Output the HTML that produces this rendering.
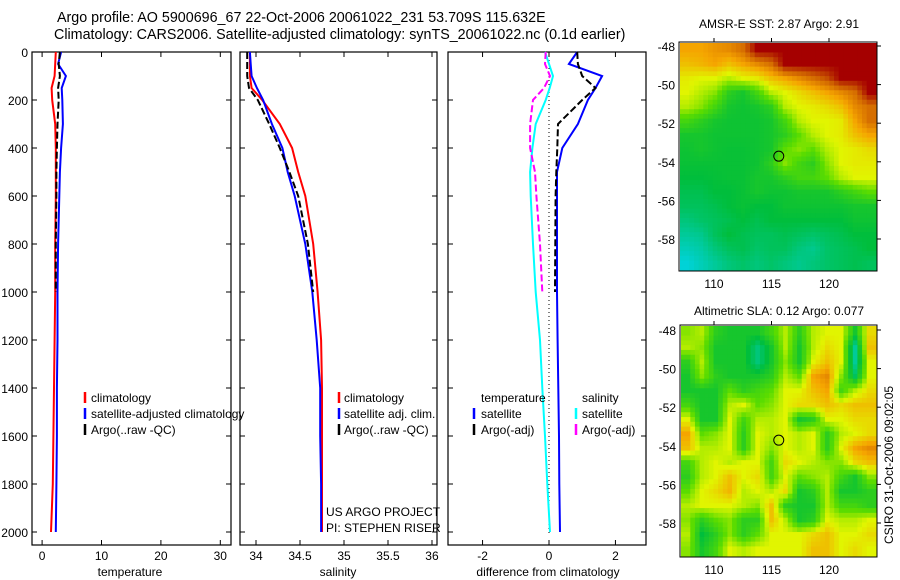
<!DOCTYPE html>
<html><head><meta charset="utf-8">
<style>
html,body{margin:0;padding:0;background:#fff;}
svg{display:block;font-family:"Liberation Sans",sans-serif;}
text{fill:#000;}
</style></head>
<body>
<svg id="fig" width="900" height="580" viewBox="0 0 900 580" xmlns="http://www.w3.org/2000/svg">
<rect width="900" height="580" fill="#fff"/>
<text x="57" y="22" font-size="14.3">Argo profile: AO 5900696_67 22-Oct-2006 20061022_231 53.709S 115.632E</text>
<text x="54" y="39" font-size="14.3">Climatology: CARS2006. Satellite-adjusted climatology: synTS_20061022.nc (0.1d earlier)</text>
<text x="779" y="28" font-size="12" text-anchor="middle">AMSR-E SST: 2.87 Argo: 2.91</text>
<text x="779" y="315" font-size="12" text-anchor="middle">Altimetric SLA: 0.12 Argo: 0.077</text>
<text transform="translate(893,465) rotate(-90)" font-size="12" text-anchor="middle">CSIRO 31-Oct-2006 09:02:05</text>
<g id="plots"></g>
</svg>
<script>
// ---------- data ----------
const depthTicks = [0,200,400,600,800,1000,1200,1400,1600,1800,2000];
const depths = [0,50,100,150,200,300,400,500,600,800,1000,1200,1400,1600,1800,2000];
const argoDepths = [0,50,100,150,200,300,400,500,600,800,1000];
const tempClim = [2.3,2.2,2.1,1.6,1.7,2.2,2.3,2.3,2.3,2.2,2.2,2.1,2.0,1.9,1.8,1.5];
const tempSat = [3.2,2.7,4.0,3.3,3.4,3.5,3.2,3.0,2.9,2.7,2.6,2.6,2.5,2.5,2.4,2.3];
const tempArgo = [3.0,2.8,3.0,2.7,2.8,2.6,2.5,2.4,2.4,2.3,2.3];
const salClim = [33.93,33.93,33.93,33.95,34.07,34.27,34.41,34.48,34.56,34.65,34.70,34.74,34.75,34.75,34.75,34.75];
const salSat = [33.93,33.94,33.95,34.01,34.08,34.18,34.30,34.36,34.44,34.56,34.64,34.69,34.73,34.73,34.74,34.74];
const salArgo = [33.90,33.90,33.90,33.92,34.02,34.15,34.27,34.38,34.48,34.59,34.65];
const dTempSat = [0.85,0.6,1.6,1.4,1.17,0.87,0.4,0.24,0.24,0.24,0.24,0.26,0.28,0.3,0.31,0.33];
const dTempArgo = [0.85,0.87,1.0,1.4,1.0,0.27,0.25,0.22,0.2,0.19,0.18];
const dSalSat = [-0.12,0.0,0.12,0.02,-0.1,-0.4,-0.5,-0.57,-0.55,-0.48,-0.4,-0.27,-0.2,-0.12,-0.05,0.03];
const dSalArgo = [-0.1,-0.12,0.03,-0.15,-0.48,-0.57,-0.57,-0.42,-0.38,-0.27,-0.2];
const tempTicks = [0,10,20,30];
const salTicks = [34,34.5,35,35.5,36];
const salTickLabels = ["34","34.5","35","35.5","36"];
const diffTicks = [-2,0,2];
const latTicks = [-48,-50,-52,-54,-56,-58];
const lonTicks = [110,115,120];
const argoLon = 115.632, argoLat = -53.709;
const sstGrid = [
[.75,.75,.78,.8,.85,1,1,1,1,1,1,1,1,1],
[.7,.72,.75,.7,.75,.8,.85,1,1,1,1,1,1,1],
[.62,.6,.6,.55,.6,.62,.7,.75,.8,.85,.9,1,1,1],
[.6,.55,.5,.35,.3,.4,.55,.6,.65,.7,.75,.8,.85,1],
[.55,.5,.4,.3,.28,.3,.35,.55,.6,.62,.65,.7,.8,.85],
[.4,.35,.3,.28,.28,.28,.3,.4,.55,.6,.6,.62,.75,.85],
[.3,.3,.28,.28,.28,.28,.3,.35,.45,.55,.6,.62,.7,.75],
[.28,.3,.28,.27,.27,.28,.3,.45,.5,.45,.55,.6,.62,.65],
[.27,.27,.27,.27,.27,.28,.35,.5,.4,.35,.5,.6,.62,.62],
[.25,.25,.26,.27,.27,.3,.3,.35,.4,.4,.45,.55,.6,.6],
[.22,.22,.25,.25,.27,.3,.28,.28,.3,.3,.3,.35,.4,.45],
[.2,.2,.22,.25,.27,.25,.25,.28,.28,.28,.28,.28,.3,.3],
[.15,.18,.2,.22,.25,.22,.25,.25,.25,.25,.25,.25,.28,.28],
[.1,.12,.2,.25,.22,.2,.2,.22,.2,.18,.2,.22,.25,.25],
[.05,.08,.15,.2,.22,.18,.2,.2,.15,.12,.18,.2,.22,.25],
[0,.05,.1,.15,.18,.15,.18,.15,.12,.15,.18,.2,.22,.2]];
const slaGrid = [
[.5,.55,.35,.3,.3,.3,.4,.55,.35,.55,.6,.6,.3,.65],
[.55,.5,.3,.3,.3,.15,.3,.55,.3,.55,.65,.6,.1,.7],
[.35,.55,.3,.3,.3,.15,.3,.5,.3,.6,.7,.6,.1,.6],
[.3,.5,.35,.3,.3,.3,.35,.55,.45,.75,.8,.5,.2,.6],
[.3,.3,.3,.45,.35,.4,.45,.6,.6,.7,.75,.4,.55,.65],
[.4,.3,.3,.55,.6,.45,.5,.6,.65,.65,.7,.65,.7,.7],
[.6,.3,.3,.6,.4,.55,.55,.6,.3,.35,.6,.6,.65,.65],
[.75,.45,.5,.6,.35,.6,.55,.6,.55,.6,.35,.55,.6,.65],
[.7,.55,.55,.6,.35,.6,.5,.6,.55,.6,.35,.6,.75,.8],
[.4,.55,.6,.55,.6,.6,.4,.65,.6,.55,.5,.5,.65,.7],
[.35,.55,.6,.7,.6,.65,.4,.6,.45,.5,.55,.4,.3,.5],
[.45,.6,.65,.72,.55,.6,.55,.65,.3,.35,.55,.3,.3,.35],
[.55,.6,.6,.6,.55,.5,.7,.35,.3,.3,.55,.4,.4,.35],
[.5,.35,.45,.5,.35,.35,.7,.55,.3,.35,.6,.55,.55,.6],
[.55,.25,.35,.5,.35,.45,.6,.6,.6,.65,.7,.6,.6,.65],
[.5,.3,.4,.6,.55,.6,.6,.6,.6,.7,.7,.6,.65,.6]];

// ---------- helpers ----------
const NS="http://www.w3.org/2000/svg";
const root=document.getElementById('plots');
function mk(tag,attrs,parent){const e=document.createElementNS(NS,tag);for(const k in attrs)e.setAttribute(k,attrs[k]);(parent||root).appendChild(e);return e;}
const yTop=52, yPx=0.24, axBottom=545;
const yD=d=>yTop+d*yPx;
function panel(name,x0,x1,vmin,vmax){
  const g=mk('g',{});
  
  
  const sx=v=>x0+(v-vmin)/(vmax-vmin)*(x1-x0);
  const r=mk('rect',{x:x0,y:yTop,width:x1-x0,height:axBottom-yTop,fill:'none',stroke:'#000','stroke-width':1.2},g);
  
  
  return {g,sx};
}
function line(p,xs,ds,color,dash,width,name){
  const pts=xs.map((v,i)=>p.sx(v).toFixed(1)+','+yD(ds[i]).toFixed(1)).join(' ');
  const l=mk('polyline',{points:pts,fill:'none',stroke:color,'stroke-width':width||2,'stroke-dasharray':dash||'none'},p.g);
  
  
}
function xTicks(p,ticks,labels,x0,x1){
  ticks.forEach((t,i)=>{
    const x=p.sx(t);
    mk('line',{x1:x,y1:axBottom,x2:x,y2:axBottom-5,stroke:'#000'},p.g);
    mk('line',{x1:x,y1:yTop,x2:x,y2:yTop+5,stroke:'#000'},p.g);
    const tx=mk('text',{x:x,y:560,'font-size':12,'text-anchor':'middle'},p.g);
    tx.textContent=labels?labels[i]:String(t);
    
    
  });
  depthTicks.forEach(d=>{
    mk('line',{x1:x0,y1:yD(d),x2:x0+5,y2:yD(d),stroke:'#000'},p.g);
    mk('line',{x1:x1,y1:yD(d),x2:x1-5,y2:yD(d),stroke:'#000'},p.g);
  });
}
function label(txt,x,y,name,anchor,size){
  const t=mk('text',{x:x,y:y,'font-size':size||12,'text-anchor':anchor||'start'});
  t.textContent=txt;
  
  
}
function legBar(x,y,color,name){
  const l=mk('line',{x1:x,y1:y-10,x2:x,y2:y+1,stroke:color,'stroke-width':2.5});
  
  
}

// ---------- panel 1 temperature ----------
const p1=panel('temperature-panel',32,231,-1.7,31.8);
depthTicks.forEach(d=>label(String(d),28,yD(d)+5,'y-tick-label','end'));
xTicks(p1,tempTicks,null,32,231);
line(p1,tempClim,depths,'#f00',null,2,'temp-climatology-line');
line(p1,tempSat,depths,'#00f',null,2,'temp-satellite-line');
line(p1,tempArgo,argoDepths,'#000','7,3',2,'temp-argo-line');
label('temperature',130,576,'x-axis-title-temperature','middle');
legBar(85,402,'#f00','legend-climatology-swatch');label('climatology',91,402,'legend-climatology');
legBar(85,418,'#00f','legend-sat-swatch');label('satellite-adjusted climatology',91,418,'legend-satellite-adjusted');
legBar(85,434,'#000','legend-argo-swatch');label('Argo(..raw -QC)',91,434,'legend-argo');

// ---------- panel 2 salinity ----------
const p2=panel('salinity-panel',240,437,33.818,36.057);
xTicks(p2,salTicks,salTickLabels,240,437);
line(p2,salClim,depths,'#f00',null,2,'sal-climatology-line');
line(p2,salSat,depths,'#00f',null,2,'sal-satellite-line');
line(p2,salArgo,argoDepths,'#000','7,3',2,'sal-argo-line');
label('salinity',338,576,'x-axis-title-salinity','middle');
legBar(339,402,'#f00','legend2-climatology-swatch');label('climatology',344,402,'legend2-climatology');
legBar(339,418,'#00f','legend2-sat-swatch');label('satellite adj. clim.',344,418,'legend2-satellite');
legBar(339,434,'#000','legend2-argo-swatch');label('Argo(..raw -QC)',344,434,'legend2-argo');
label('US ARGO PROJECT',326,516,'project-label');
label('PI: STEPHEN RISER',326,532,'pi-label');

// ---------- panel 3 difference ----------
const p3=panel('difference-panel',448,646,-3.04,2.92);
xTicks(p3,diffTicks,null,448,646);
const z=mk('line',{x1:p3.sx(0),y1:yTop,x2:p3.sx(0),y2:535,stroke:'#000','stroke-dasharray':'1,3'},p3.g);


line(p3,dSalSat,depths,'#0ff',null,2,'diff-sal-satellite-line');
line(p3,dSalArgo,argoDepths,'#f0f','7,3',2,'diff-sal-argo-line');
line(p3,dTempSat,depths,'#00f',null,2,'diff-temp-satellite-line');
line(p3,dTempArgo,argoDepths,'#000','7,3',2,'diff-temp-argo-line');
label('difference from climatology',548,576,'x-axis-title-difference','middle');
label('temperature',481,402,'legend3-temperature-heading');
legBar(474,418,'#00f','legend3-temp-sat-swatch');label('satellite',481,418,'legend3-temp-satellite');
legBar(474,434,'#000','legend3-temp-argo-swatch');label('Argo(-adj)',481,434,'legend3-temp-argo');
label('salinity',582,402,'legend3-salinity-heading');
legBar(576,418,'#0ff','legend3-sal-sat-swatch');label('satellite',582,418,'legend3-sal-satellite');
legBar(576,434,'#f0f','legend3-sal-argo-swatch');label('Argo(-adj)',582,434,'legend3-sal-argo');

// ---------- maps ----------
const stops=[[0,[0,210,215]],[0.25,[0,190,60]],[0.45,[90,220,0]],[0.6,[225,245,0]],[0.75,[245,165,0]],[0.88,[205,95,0]],[1,[165,0,0]]];
function cmap(v){for(let i=1;i<stops.length;i++){if(v<=stops[i][0]){const a=stops[i-1],b=stops[i];const f=(v-a[0])/(b[0]-a[0]);const c=a[1].map((q,k)=>Math.round(q+(b[1][k]-q)*f));return 'rgb('+c.join(',')+')';}}return 'rgb(165,0,0)';}
function sample(grid,r,c){
  const R=grid.length,C=grid[0].length;
  r=Math.max(0,Math.min(R-1,r));c=Math.max(0,Math.min(C-1,c));
  const r0=Math.floor(r),c0=Math.floor(c),r1=Math.min(R-1,r0+1),c1=Math.min(C-1,c0+1);
  const fr=r-r0,fc=c-c0;
  return grid[r0][c0]*(1-fr)*(1-fc)+grid[r0][c1]*(1-fr)*fc+grid[r1][c0]*fr*(1-fc)+grid[r1][c1]*fr*fc;
}
function map(name,grid,fx0,fy0,fx1,fy1,lat48y,lat58y){
  const g=mk('g',{});
  
  
  const lonX=l=>714+(l-110)*(829-714)/10;
  const latY=l=>lat48y+(-48-l)*(lat58y-lat48y)/10;
  const rows=grid.length, cols=grid[0].length, sub=3;
  const cw=(fx1-fx0-2)/(cols*sub), ch=(fy1-fy0-2)/(rows*sub);
  for(let r=0;r<rows*sub;r++)for(let c=0;c<cols*sub;c++){
    const v=sample(grid,(r+0.5)/sub-0.5,(c+0.5)/sub-0.5);
    const cell=mk('rect',{x:(fx0+1+c*cw).toFixed(2),y:(fy0+1+r*ch).toFixed(2),width:(cw+0.5).toFixed(2),height:(ch+0.5).toFixed(2),fill:cmap(v)},g);
    
    
  }
  const fr=mk('rect',{x:fx0,y:fy0,width:fx1-fx0,height:fy1-fy0,fill:'none',stroke:'#000'},g);
  
  
  latTicks.forEach(l=>{
    const y=latY(l);
    mk('line',{x1:fx1,y1:y,x2:fx1+4,y2:y,stroke:'#000'},g);
    const t=mk('text',{x:fx0-4,y:y+5,'font-size':12,'text-anchor':'end'},g);
    t.textContent=String(l);
    
    
  });
  lonTicks.forEach(l=>{
    const x=lonX(l);
    mk('line',{x1:x,y1:fy0,x2:x,y2:fy0-4,stroke:'#000'},g);
    const t=mk('text',{x:x,y:fy1+17,'font-size':12,'text-anchor':'middle'},g);
    t.textContent=String(l);
    
    
  });
  const c=mk('circle',{cx:lonX(argoLon),cy:latY(argoLat),r:5,fill:'none',stroke:'#000','stroke-width':1},g);
  
  
}
map('sst-map',sstGrid,679,42,877,271,46,239);
map('sla-map',slaGrid,680,325,877,557,330,523);
</script>
</body></html>
